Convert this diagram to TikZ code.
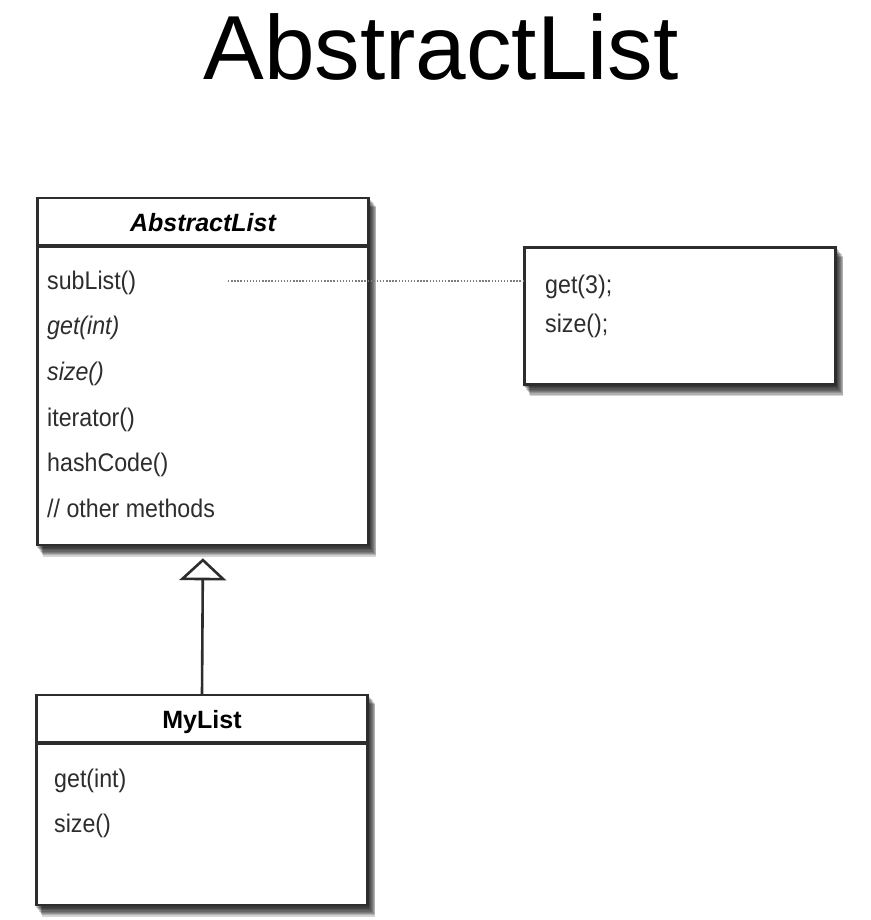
\documentclass[tikz,border=0pt]{standalone}
\usepackage{fontspec}
\setmainfont{Liberation Sans}
\newfontfamily\memberfont{Liberation Sans}[FakeStretch=0.91]
\usetikzlibrary{arrows.meta,positioning,backgrounds}
\definecolor{framecolor}{RGB}{45,45,45}
\definecolor{membercolor}{RGB}{45,45,45}
\definecolor{dotcolor}{RGB}{125,125,125}

\begin{document}
\begin{tikzpicture}[
    x=1pt, y=-1pt,
    classhead/.style={
        rectangle, draw=framecolor, line width=2.2pt, fill=white,
        minimum width=331pt, minimum height=47pt, inner sep=0pt,
        text height=19pt, text depth=0pt,
        font=\fontsize{25}{30}\selectfont\bfseries
    },
    classbody/.style={
        rectangle, draw=framecolor, line width=2.2pt, fill=white,
        minimum width=331pt, inner sep=0pt
    },
    notebox/.style={
        rectangle, draw=framecolor, line width=2.2pt, fill=white,
        minimum width=311pt, minimum height=137pt, inner sep=0pt
    },
    member/.style={
        anchor=base west, inner sep=0pt, text=membercolor,
        font=\memberfont\fontsize{25.5}{30}\selectfont
    },
    inherit/.style={-{Triangle[open, width=47pt, length=22pt]}, line width=2.6pt, draw=framecolor},
    usage/.style={line width=1.4pt, draw=dotcolor, dash pattern=on 1.4pt off 1.7pt}
]
\useasboundingbox (0,0) rectangle (870,920);

% Title
\node[anchor=base, inner sep=0pt, font=\fontsize{91}{100}\selectfont] (title) at (441, 80) {AbstractList};

% Abstract class
\node[classhead] (abs_head) at (203, 221.5) {\itshape AbstractList};
\node[classbody, minimum height=298pt, below=0pt of abs_head] (abs_body) {};
\foreach \m [count=\i] in {subList(), \itshape get(int), \itshape size(), iterator(), hashCode(), // other methods}
    \node[member] (abs_m\i) at (47, {289+45.7*(\i-1)}) {\m};

% Concrete subclass
\node[classhead] (my_head) at (202, 718.5) {MyList};
\node[classbody, minimum height=161pt, below=0pt of my_head] (my_body) {};
\node[member] (my_m1) at (54, 787) {get(int)};
\node[member] (my_m2) at (54, 832) {size()};

% Calls made by subList()
\node[notebox] (call_note) at (680, 316) {};
\node[member] (call_m1) at (545, 293) {get(3);};
\node[member] (call_m2) at (545, 332) {size();};

% Connectors
\coordinate (sub_end) at (228, 281);
\draw[usage] (sub_end) -- (sub_end -| call_note.west);
\draw[inherit, shorten >=12pt] (my_head.north) -- (abs_body.south);

% Soft shadows
\begin{scope}[on background layer]
\foreach \b/\e in {abs_head/abs_body, my_head/my_body, call_note/call_note}
    \foreach \k in {1,...,8}
        \fill[black, fill opacity=0.17]
            ([shift={(\k*0.85, \k*1.3)}]\b.north west) rectangle ([shift={(\k*0.85, \k*1.3)}]\e.south east);
\end{scope}

\end{tikzpicture}
\end{document}
